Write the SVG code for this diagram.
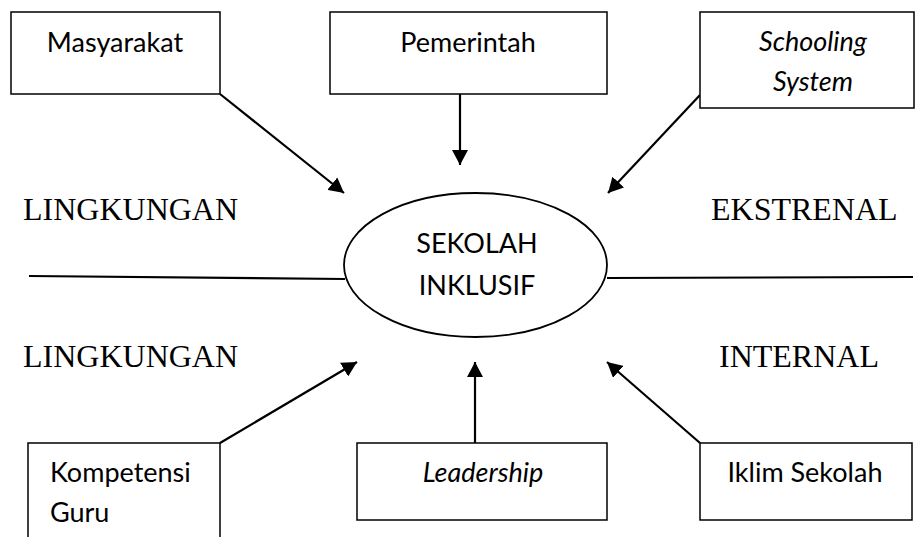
<svg xmlns="http://www.w3.org/2000/svg" width="916" height="537" viewBox="0 0 916 537">
<style>
.box{fill:#fff;stroke:#000;stroke-width:1.5}
.lbl{font-family:Lato,"Open Sans",sans-serif;font-size:27px;fill:#000}
.it{font-style:italic}
.mid{text-anchor:middle}
.tnr{font-family:"Liberation Serif","Times New Roman",serif;font-size:32px;fill:#000}
.con{stroke:#000;stroke-width:2.2;fill:none}
</style>
<defs>
<marker id="ah" markerUnits="userSpaceOnUse" markerWidth="16" markerHeight="16" refX="15" refY="8" orient="auto">
<path d="M0,0 L15,8 L0,16 z" fill="#000"/>
</marker>
</defs>
<g id="labels">
<text class="tnr" x="23" y="220">LINGKUNGAN</text>
<text class="tnr" x="711" y="220">EKSTRENAL</text>
<text class="tnr" x="23" y="367">LINGKUNGAN</text>
<text class="tnr" x="719" y="367">INTERNAL</text>
</g>
<g id="connectors">
<line class="con" x1="29" y1="276" x2="345" y2="279"/>
<line class="con" x1="607" y1="278" x2="913" y2="277"/>
<line class="con" x1="220" y1="94" x2="344" y2="193" marker-end="url(#ah)"/>
<line class="con" x1="460" y1="94" x2="460" y2="165" marker-end="url(#ah)"/>
<line class="con" x1="700" y1="95" x2="608" y2="193" marker-end="url(#ah)"/>
<line class="con" x1="220" y1="443" x2="357" y2="362" marker-end="url(#ah)"/>
<line class="con" x1="475" y1="443" x2="475" y2="362" marker-end="url(#ah)"/>
<line class="con" x1="700" y1="443" x2="607" y2="362" marker-end="url(#ah)"/>
</g>
<g id="masyarakat">
<rect class="box" x="11" y="12" width="209" height="82"/>
<text class="lbl mid" x="115" y="52">Masyarakat</text>
</g>
<g id="pemerintah">
<rect class="box" x="330" y="12" width="277" height="82"/>
<text class="lbl mid" x="468" y="52">Pemerintah</text>
</g>
<g id="schooling">
<rect class="box" x="700" y="12" width="214" height="96"/>
<text class="lbl mid it" x="813" y="51">Schooling</text>
<text class="lbl mid it" x="813" y="91">System</text>
</g>
<g id="sekolah">
<ellipse cx="475.5" cy="265" rx="131.5" ry="72" fill="#fff" stroke="#000" stroke-width="1.8"/>
<text class="lbl mid" x="477" y="253">SEKOLAH</text>
<text class="lbl mid" x="477" y="295">INKLUSIF</text>
</g>
<g id="kompetensi">
<rect class="box" x="28" y="443" width="192" height="120"/>
<text class="lbl" x="50" y="482">Kompetensi</text>
<text class="lbl" x="50" y="522">Guru</text>
</g>
<g id="leadership">
<rect class="box" x="357" y="443" width="250" height="77"/>
<text class="lbl mid it" x="483" y="482">Leadership</text>
</g>
<g id="iklim">
<rect class="box" x="700" y="443" width="212" height="77"/>
<text class="lbl mid" x="805" y="482">Iklim Sekolah</text>
</g>
</svg>
